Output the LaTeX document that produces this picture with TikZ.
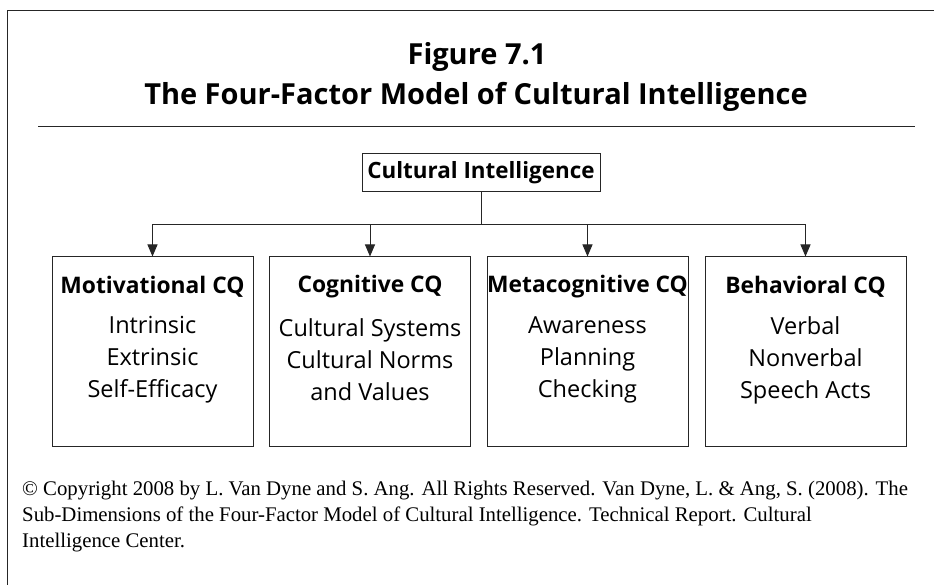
\documentclass[tikz,border=0pt]{standalone}
\usepackage{fontspec}
\setmainfont{Open Sans}
\newfontfamily\serifnote{Liberation Serif}
\usetikzlibrary{arrows.meta}
\begin{document}
\begin{tikzpicture}[x=1pt,y=-1pt,
  line/.style={line width=1pt,draw=black!85},
  arr/.style={line, -{Triangle[width=10pt,length=12pt]}},
  cqbox/.style={line, rectangle, minimum width=201pt, minimum height=189pt, inner sep=0pt},
  head/.style={font=\fontsize{22.8}{26}\selectfont\bfseries, inner sep=0pt},
  items/.style={font=\fontsize{23.5}{32}\selectfont, align=center, inner sep=0pt},
  ttl/.style={font=\fontsize{29}{34}\selectfont\bfseries, inner sep=0pt}]
\useasboundingbox (0,0) rectangle (934,585);
% frame
\coordinate (fl) at (7,585);
\coordinate (ftl) at (7,11);
\coordinate (ftr) at (934,11);
\draw[line] (fl) -- (ftl) -- (ftr);
% titles
\node[ttl] (t1) at (477,57) {Figure 7.1};
\node[ttl] (t2) at (476,97) {The Four-Factor Model of Cultural Intelligence};
\coordinate (r1) at (38,127);
\coordinate (r2) at (915,127);
\draw[line] (r1) -- (r2);
% root
\node[line, rectangle, minimum width=238pt, minimum height=38pt, inner sep=3pt,
      font=\fontsize{22.4}{26}\selectfont\bfseries] (ci) at (481,173) {Cultural Intelligence};
% boxes
\node[cqbox] (mot) at (152.5,351.5) {};
\node[cqbox] (cog) at (370,351.5) {};
\node[cqbox] (met) at (587.5,351.5) {};
\node[cqbox] (beh) at (805.5,351.5) {};
\node[head] (motH) at (152.5,287) {Motivational CQ};
\node[head] (cogH) at (370,287) {Cognitive CQ};
\node[head] (metH) at (587.5,287) {Metacognitive CQ};
\node[head] (behH) at (805.5,287) {Behavioral CQ};
\node[items] (motI) at (152.5,360) {Intrinsic\\Extrinsic\\Self-Efficacy};
\node[items] (cogI) at (370,360) {Cultural Systems\\Cultural Norms\\and Values};
\node[items] (metI) at (587.5,360) {Awareness\\Planning\\Checking};
\node[items] (behI) at (805.5,360) {Verbal\\Nonverbal\\Speech Acts};
% connectors
\coordinate (j) at (ci.south |- 0,225);
\draw[line] (ci.south) -- (j);
\draw[arr] (j) -| (mot.north);
\draw[arr] (j) -| (cog.north);
\draw[arr] (j) -| (met.north);
\draw[arr] (j) -| (beh.north);
% note
\node[font=\serifnote\fontsize{20.8}{26}\selectfont, align=left, anchor=north west, inner sep=0pt] (note) at (22,481)
{\textcopyright{} Copyright 2008 by L. Van Dyne and S. Ang. All Rights Reserved. Van Dyne, L. \& Ang, S. (2008). The\\
Sub-Dimensions of the Four-Factor Model of Cultural Intelligence. Technical Report. Cultural\\
Intelligence Center.};
\end{tikzpicture}
\end{document}
